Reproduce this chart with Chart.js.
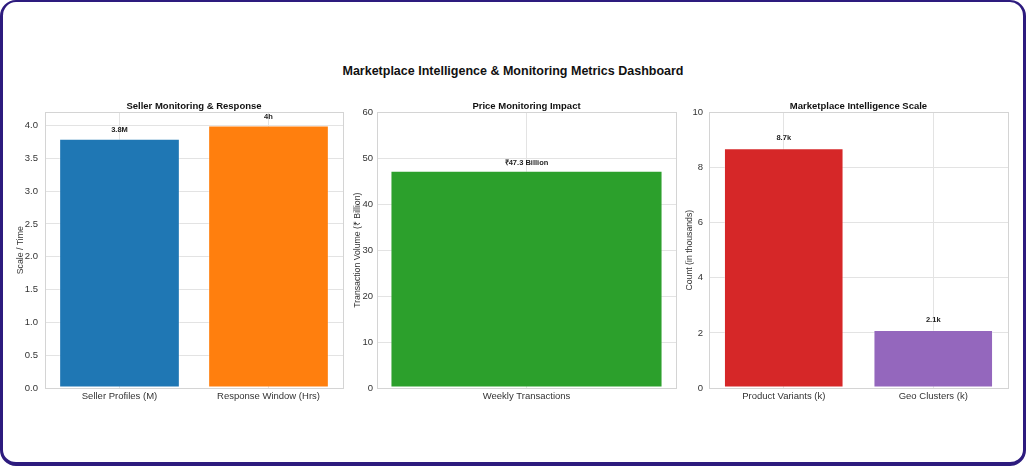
<!DOCTYPE html>
<html>
<head>
<meta charset="utf-8">
<script src="https://cdn.jsdelivr.net/npm/chart.js@4.4.1/dist/chart.umd.min.js"></script>
<style>
  html, body { margin: 0; padding: 0; background: #fff; }
  #frame {
    position: relative; width: 1026px; height: 466px; box-sizing: border-box;
    border: 3px solid #2d1b7e; border-top-width: 2px; border-bottom-width: 4px;
    border-radius: 16px; background: #fff; overflow: hidden;
  }
  #mainTitle {
    position: absolute; left: 0; right: 0; top: 62px; text-align: center;
    font: bold 12.5px "Liberation Sans", Arial, sans-serif; color: #111;
  }
  .panel { position: absolute; top: 91px; height: 320px; }
</style>
</head>
<body>
<div id="frame">
  <div id="mainTitle">Marketplace Intelligence &amp; Monitoring Metrics Dashboard</div>
  <div class="panel" style="left:-3px;width:353px"><canvas id="c1" width="353" height="320"></canvas></div>
  <div class="panel" style="left:337px;width:345px"><canvas id="c2" width="345" height="320"></canvas></div>
  <div class="panel" style="left:667px;width:356px"><canvas id="c3" width="356" height="320"></canvas></div>
</div>
<script>
// ---- data ----
const sellerLabels = ["Seller Profiles (M)", "Response Window (Hrs)"];
const sellerValues = [3.8, 4.0];
const sellerTexts = ["3.8M", "4h"];
const sellerColors = ["#1f77b4", "#ff7f0e"];

const priceLabels = ["Weekly Transactions"];
const priceValues = [47.3];
const priceTexts = ["\u20b947.3 Billion"];
const priceColors = ["#2ca02c"];

const intelLabels = ["Product Variants (k)", "Geo Clusters (k)"];
const intelValues = [8.7, 2.1];
const intelTexts = ["8.7k", "2.1k"];
const intelColors = ["#d62728", "#9467bd"];

const FONT = '"Liberation Sans", Arial, sans-serif';
const GRID = "#e3e3e3";

// frame around the plot area (matplotlib whitegrid spines)
const boxPlugin = {
  id: "plotBox",
  afterDraw(chart) {
    const { ctx, chartArea: a } = chart;
    ctx.save();
    ctx.strokeStyle = "#d4d4d4";
    ctx.lineWidth = 1;
    ctx.strokeRect(Math.round(a.left) + 0.5, Math.round(a.top) + 0.5,
      Math.round(a.right - a.left), Math.round(a.bottom - a.top));
    ctx.restore();
  },
};

// value text over each bar
const valuePlugin = {
  id: "valueText",
  afterDatasetsDraw(chart, args, opts) {
    const { ctx } = chart;
    const meta = chart.getDatasetMeta(0);
    ctx.save();
    ctx.font = "bold 7.5px " + FONT;
    ctx.fillStyle = "#222";
    ctx.textAlign = "center";
    ctx.textBaseline = "middle";
    meta.data.forEach((bar, i) => {
      ctx.fillText(opts.texts[i], bar.x, bar.y - opts.gap);
    });
    ctx.restore();
  },
};

function makeChart(id, cfg) {
  const stepFilter = (scale) => {
    scale.ticks = scale.ticks.filter((t) => Math.abs(t.value / cfg.step - Math.round(t.value / cfg.step)) < 1e-6);
  };
  return new Chart(document.getElementById(id), {
    type: "bar",
    data: {
      labels: cfg.labels,
      datasets: [{
        data: cfg.values,
        backgroundColor: cfg.colors,
        borderColor: "rgba(255,255,255,0.35)",
        borderWidth: 1,
        borderSkipped: false,
        barPercentage: cfg.barPct,
        categoryPercentage: 1,
      }],
    },
    plugins: [boxPlugin, valuePlugin],
    options: {
      responsive: false,
      animation: false,
      layout: { padding: { left: 0, right: cfg.padRight, top: 0, bottom: 0 } },
      plugins: {
        legend: { display: false },
        tooltip: { enabled: false },
        title: {
          display: true,
          text: cfg.title,
          fullSize: false,
          color: "#111",
          font: { family: FONT, size: 9.5, weight: "bold" },
          padding: { top: 8, bottom: 0 },
        },
        valueText: { texts: cfg.texts, gap: cfg.gap },
      },
      scales: {
        x: {
          grid: { color: GRID, offset: false, drawTicks: false },
          border: { color: "#d4d4d4" },
          ticks: { color: "#333", font: { family: FONT, size: 9.5 }, padding: 3, maxRotation: 0 },
          afterFit: (s) => { s.height = 25; },
        },
        y: {
          min: 0,
          max: cfg.max,
          grid: { color: GRID, drawTicks: false },
          border: { color: "#d4d4d4" },
          ticks: {
            stepSize: cfg.step,
            color: "#333",
            padding: cfg.tickPad,
            font: { family: FONT, size: 9.5 },
            callback: (v) => cfg.fmt(v),
          },
          afterBuildTicks: stepFilter,
          title: {
            display: true,
            text: cfg.yTitle,
            color: "#333",
            font: { family: FONT, size: 8.7 },
            padding: { top: cfg.titlePad, bottom: 0 },
          },
          afterFit: (s) => { s.width = cfg.yWidth; },
        },
      },
    },
  });
}

makeChart("c1", {
  labels: sellerLabels, values: sellerValues, texts: sellerTexts, colors: sellerColors,
  title: "Seller Monitoring & Response", yTitle: "Scale / Time",
  max: 4.2, step: 0.5, fmt: (v) => v.toFixed(1),
  barPct: 0.81, yWidth: 45, padRight: 10, titlePad: 15, gap: 9, tickPad: 7,
});

makeChart("c2", {
  labels: priceLabels, values: priceValues, texts: priceTexts, colors: priceColors,
  title: "Price Monitoring Impact", yTitle: "Transaction Volume (\u20b9 Billion)",
  max: 60, step: 10, fmt: (v) => String(v),
  barPct: 0.91, yWidth: 37, padRight: 9, titlePad: 12, gap: 7.5, tickPad: 4,
});

makeChart("c3", {
  labels: intelLabels, values: intelValues, texts: intelTexts, colors: intelColors,
  title: "Marketplace Intelligence Scale", yTitle: "Count (in thousands)",
  max: 10, step: 2, fmt: (v) => String(v),
  barPct: 0.8, yWidth: 39, padRight: 18, titlePad: 14, gap: 10.5, tickPad: 6,
});
</script>
</body>
</html>
